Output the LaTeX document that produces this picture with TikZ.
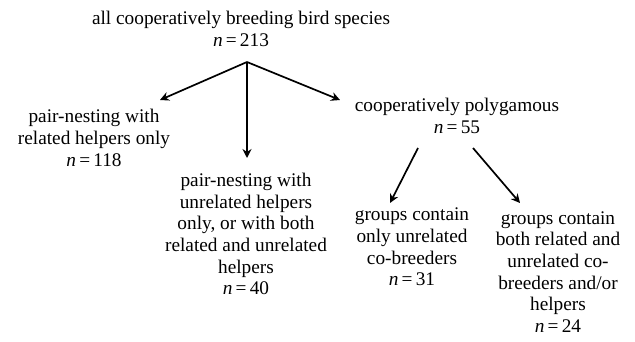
\documentclass[tikz,border=0pt]{standalone}
\usepackage{fontspec}
\setmainfont{Liberation Serif}
\usetikzlibrary{arrows.meta}
\newcommand{\nn}[1]{\textit{n}\,=\,#1}
\begin{document}
\begin{tikzpicture}[x=1pt,y=-1pt,
  lbl/.style={align=center,inner sep=0pt,font=\fontsize{19.3}{21.7}\selectfont},
  arr/.style={line width=1.7pt,-{Stealth[length=9pt,width=9pt,inset=3pt]}}]
\useasboundingbox (0,0) rectangle (635,342);
\node[lbl] (top) at (241,29) {all cooperatively breeding bird species\\\nn{213}};
\coordinate (split) at (247,62);
\node[lbl] (left) at (94,138) {pair-nesting with\\related helpers only\\\nn{118}};
\node[lbl] (mid) at (246,234) {pair-nesting with\\unrelated helpers\\only, or with both\\related and unrelated\\helpers\\\nn{40}};
\node[lbl] (coop) at (457,116) {cooperatively polygamous\\\nn{55}};
\node[lbl] (gA) at (412,247) {groups contain\\only unrelated\\co-breeders\\\nn{31}};
\node[lbl] (gB) at (558,272) {groups contain\\both related and\\unrelated co-\\breeders and/or\\helpers\\\nn{24}};
\coordinate (tL) at (160,100);
\coordinate (tM) at (247,158);
\coordinate (tR) at (340,100);
\coordinate (cs1) at (418,148);
\coordinate (cs2) at (473,148);
\coordinate (tA) at (390,203);
\coordinate (tB) at (520,203);
\draw[arr] (split) -- (tL);
\draw[arr] (split) -- (tM);
\draw[arr] (split) -- (tR);
\draw[arr] (cs1) -- (tA);
\draw[arr] (cs2) -- (tB);
\end{tikzpicture}
\end{document}
